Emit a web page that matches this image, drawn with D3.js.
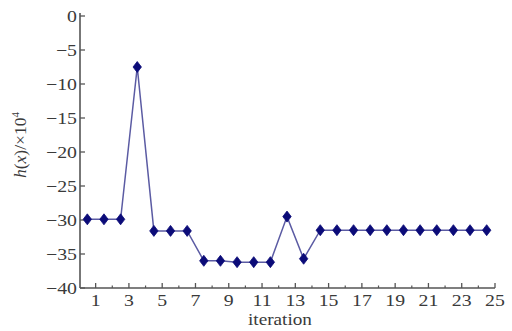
<!DOCTYPE html>
<html>
<head>
<meta charset="utf-8">
<script src="https://cdn.jsdelivr.net/npm/d3@7"></script>
<style>
  body { margin: 0; background: #fff; }
</style>
</head>
<body>
<div id="chart"></div>
<script>
var iterations = [1, 2, 3, 4, 5, 6, 7, 8, 9, 10, 11, 12, 13, 14, 15, 16, 17, 18, 19, 20, 21, 22, 23, 24, 25]
var hValues = [-29.9, -29.9, -29.9, -7.5, -31.6, -31.6, -31.6, -36.0, -36.0, -36.2, -36.2, -36.2,
    -29.5, -35.7, -31.5, -31.5, -31.5, -31.5, -31.5, -31.5, -31.5, -31.5, -31.5, -31.5, -31.5]
var xTickLabels = [1, 3, 5, 7, 9, 11, 13, 15, 17, 19, 21, 23, 25]
var xMinorTicks = [2, 4, 6, 8, 10, 12, 14, 16, 18, 20, 22, 24]
var yTickLabels = [0, -5, -10, -15, -20, -25, -30, -35, -40]

var width = 512, height = 331
var serif = "'Liberation Serif'"
var sx = 1.2  // the reference text looks stretched sideways
var svg = d3.select("#chart").append("svg")
    .attr("width", width)
    .attr("height", height)

var x = d3.scaleLinear().domain([0, 25]).range([79, 495])
var y = d3.scaleLinear().domain([-40, 0]).range([288, 16])
var axisColor = "#555"
var textColor = "#3a3a3a"
var fmt = function(d) { return d < 0 ? "\u2212" + Math.abs(d) : "" + d }

// axis lines
svg.append("line")
    .attr("x1", 80).attr("x2", 80)
    .attr("y1", y(0) - 3).attr("y2", y(-40))
    .attr("stroke", axisColor).attr("stroke-width", 1.6)
svg.append("line")
    .attr("x1", 80).attr("x2", x(25))
    .attr("y1", y(-40)).attr("y2", y(-40))
    .attr("stroke", axisColor).attr("stroke-width", 1.6)

// y ticks
svg.selectAll(".ytick").data(yTickLabels).enter().append("line")
    .attr("x1", 80).attr("x2", 85)
    .attr("y1", d => y(d)).attr("y2", d => y(d))
    .attr("stroke", axisColor).attr("stroke-width", 1.3)
svg.selectAll(".ylabel").data(yTickLabels).enter().append("text")
    .attr("transform", d => "translate(77," + (y(d) + 5.5) + ") scale(" + sx + ",1)")
    .attr("text-anchor", "end")
    .attr("font-size", 16.5)
    .style("font-family", serif)
    .attr("fill", textColor)
    .text(fmt)

// x ticks
svg.selectAll(".xtick").data(xTickLabels).enter().append("line")
    .attr("x1", d => x(d)).attr("x2", d => x(d))
    .attr("y1", y(-40)).attr("y2", y(-40) - 5)
    .attr("stroke", axisColor).attr("stroke-width", 1.3)
svg.selectAll(".xminor").data(xMinorTicks).enter().append("line")
    .attr("x1", d => x(d)).attr("x2", d => x(d))
    .attr("y1", y(-40)).attr("y2", y(-40) - 2.5)
    .attr("stroke", axisColor).attr("stroke-width", 1.2)
svg.selectAll(".xlabel").data(xTickLabels).enter().append("text")
    .attr("transform", d => "translate(" + x(d) + ",306) scale(" + sx + ",1)")
    .attr("text-anchor", "middle")
    .attr("font-size", 16.5)
    .style("font-family", serif)
    .attr("fill", textColor)
    .text(d => d)

// axis titles
svg.append("text")
    .attr("transform", "translate(280,325) scale(" + sx + ",1)")
    .attr("text-anchor", "middle")
    .attr("font-size", 16)
    .style("font-family", serif)
    .attr("fill", textColor)
    .text("iteration")

var yTitle = svg.append("text")
    .attr("transform", "translate(26,145) rotate(-90) scale(1.1,1.1)")
    .attr("text-anchor", "middle")
    .attr("font-size", 16)
    .style("font-family", serif)
    .attr("fill", textColor)
yTitle.append("tspan").attr("font-style", "italic").text("h")
yTitle.append("tspan").text("(")
yTitle.append("tspan").attr("font-style", "italic").text("x")
yTitle.append("tspan").text(")/\u00d710")
yTitle.append("tspan").attr("dy", -6).attr("font-size", 10).text("4")

// series
var pts = iterations.map((it, i) => ({ it: it, v: hValues[i] }))
var line = d3.line()
    .x(d => x(d.it - 0.5))
    .y(d => y(d.v))
svg.append("path")
    .datum(pts)
    .attr("d", line)
    .attr("fill", "none")
    .attr("stroke", "#5b5ba3")
    .attr("stroke-width", 1.5)

svg.selectAll(".marker").data(pts).enter().append("path")
    .attr("d", "M0,-5.5L4.2,0L0,5.5L-4.2,0Z")
    .attr("transform", d => "translate(" + x(d.it - 0.5) + "," + y(d.v) + ")")
    .attr("fill", "#0b0b78")
    .attr("stroke", "#0b0b78")
    .attr("stroke-width", 0.8)
</script>
</body>
</html>
